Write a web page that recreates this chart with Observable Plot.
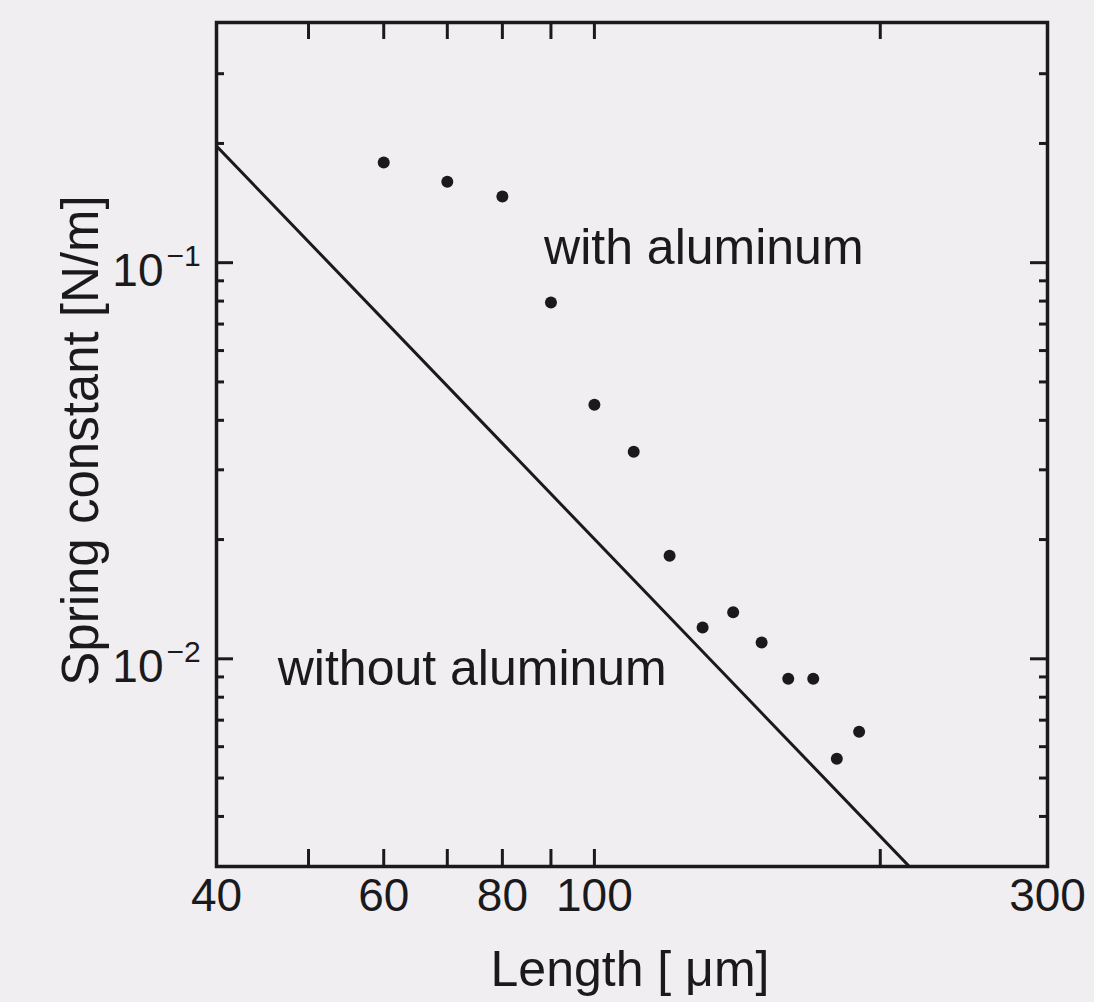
<!DOCTYPE html>
<html>
<head>
<meta charset="utf-8">
<script src="https://cdn.jsdelivr.net/npm/d3@7"></script>
<script src="https://cdn.jsdelivr.net/npm/@observablehq/plot@0.6"></script>
<style>
  html, body { margin: 0; padding: 0; background: #f0eef1; }
  #chart svg { display: block; }
</style>
</head>
<body>
<div id="chart"></div>
<script>
// ---- data ----
const lengths = [60, 70, 80, 90, 100, 110, 120, 130, 140, 150, 160, 170, 180, 190];
const springWithAl = [0.179, 0.160, 0.147, 0.0793, 0.0438, 0.0333, 0.0182, 0.0120, 0.0131, 0.0110, 0.0089, 0.0089, 0.00559, 0.00654];
const lineLengths = [40, 214];
const lineSpring = [0.197, 0.00301];
const xLabelTicks = [40, 60, 80, 100, 300];
const xTicks = [50, 60, 70, 80, 90, 100, 200];
const yMajorTicks = [0.01, 0.1];
const yMajorExp = ["\u22122", "\u22121"];
const yMinorTicks = [0.004, 0.005, 0.006, 0.007, 0.008, 0.009,
                     0.02, 0.03, 0.04, 0.05, 0.06, 0.07, 0.08, 0.09,
                     0.2, 0.3];
const annotations = [
  {x: 88.5, y: 0.099, text: "with aluminum"},
  {x: 46.4, y: 0.0086, text: "without aluminum"}
];
const xTitle = "Length [ \u03bcm]";
const yTitle = "Spring constant [N/m]";

// ---- build ----
const W = 1094, H = 1002;
const mL = 216, mR = 47, mT = 22, mB = 136;
const plotW = W - mL - mR, plotH = H - mT - mB;
const ink = "#1a1a1c";
const font = "Liberation Sans, Arial, Helvetica, sans-serif";

const pts = lengths.map((x, i) => ({x, y: springWithAl[i]}));
const linePts = lineLengths.map((x, i) => ({x, y: lineSpring[i]}));
const yMajor = yMajorTicks.map((y, i) => ({y, e: yMajorExp[i]}));

const chart = Plot.plot({
  width: W, height: H,
  marginLeft: mL, marginRight: mR, marginTop: mT, marginBottom: mB,
  style: {background: "#f0eef1", fontFamily: font, color: ink},
  x: {type: "log", domain: [40, 300], axis: null},
  y: {type: "log", domain: [0.00299, 0.404], axis: null},
  marks: [
    // theoretical line
    Plot.line(linePts, {x: "x", y: "y", stroke: ink, strokeWidth: 3, clip: true}),
    // data points
    Plot.dot(pts, {x: "x", y: "y", r: 6, fill: ink, stroke: null}),
    // inward ticks: bottom and top
    Plot.tickX(xTicks, {x: d => d, stroke: ink, strokeWidth: 3, insetTop: plotH - 17}),
    Plot.tickX(xTicks, {x: d => d, stroke: ink, strokeWidth: 3, insetBottom: plotH - 17}),
    // inward ticks: left and right
    Plot.tickY(yMajorTicks, {y: d => d, stroke: ink, strokeWidth: 3, insetRight: plotW - 17}),
    Plot.tickY(yMajorTicks, {y: d => d, stroke: ink, strokeWidth: 3, insetLeft: plotW - 17}),
    Plot.tickY(yMinorTicks, {y: d => d, stroke: ink, strokeWidth: 3, insetRight: plotW - 8}),
    Plot.tickY(yMinorTicks, {y: d => d, stroke: ink, strokeWidth: 3, insetLeft: plotW - 8}),
    Plot.frame({stroke: ink, strokeWidth: 3.5}),
    // x tick labels
    Plot.text(xLabelTicks, {x: d => d, frameAnchor: "bottom", text: d => String(d),
      lineAnchor: "top", dy: 12, fontSize: 46, fill: ink}),
    // y tick labels 10^n
    Plot.text(yMajor, {y: "y", frameAnchor: "left", text: () => "10",
      textAnchor: "end", lineAnchor: "bottom", dx: -53, dy: 23, fontSize: 46, fill: ink}),
    Plot.text(yMajor, {y: "y", frameAnchor: "left", text: "e",
      textAnchor: "start", lineAnchor: "bottom", dx: -50, dy: 3, fontSize: 30, fill: ink}),
    // annotations
    Plot.text(annotations, {x: "x", y: "y", text: "text", textAnchor: "start",
      lineAnchor: "bottom", fontSize: 50, fill: ink}),
    // axis titles
    Plot.text([xTitle], {frameAnchor: "bottom", text: d => d, textAnchor: "middle",
      lineAnchor: "bottom", dx: -2, dy: 119, fontSize: 50, fill: ink}),
    Plot.text([yTitle], {frameAnchor: "left", text: d => d, rotate: -90, textAnchor: "middle",
      lineAnchor: "bottom", dx: -119, dy: -4, fontSize: 51, fill: ink})
  ]
});
document.getElementById("chart").appendChild(chart);
</script>
</body>
</html>
